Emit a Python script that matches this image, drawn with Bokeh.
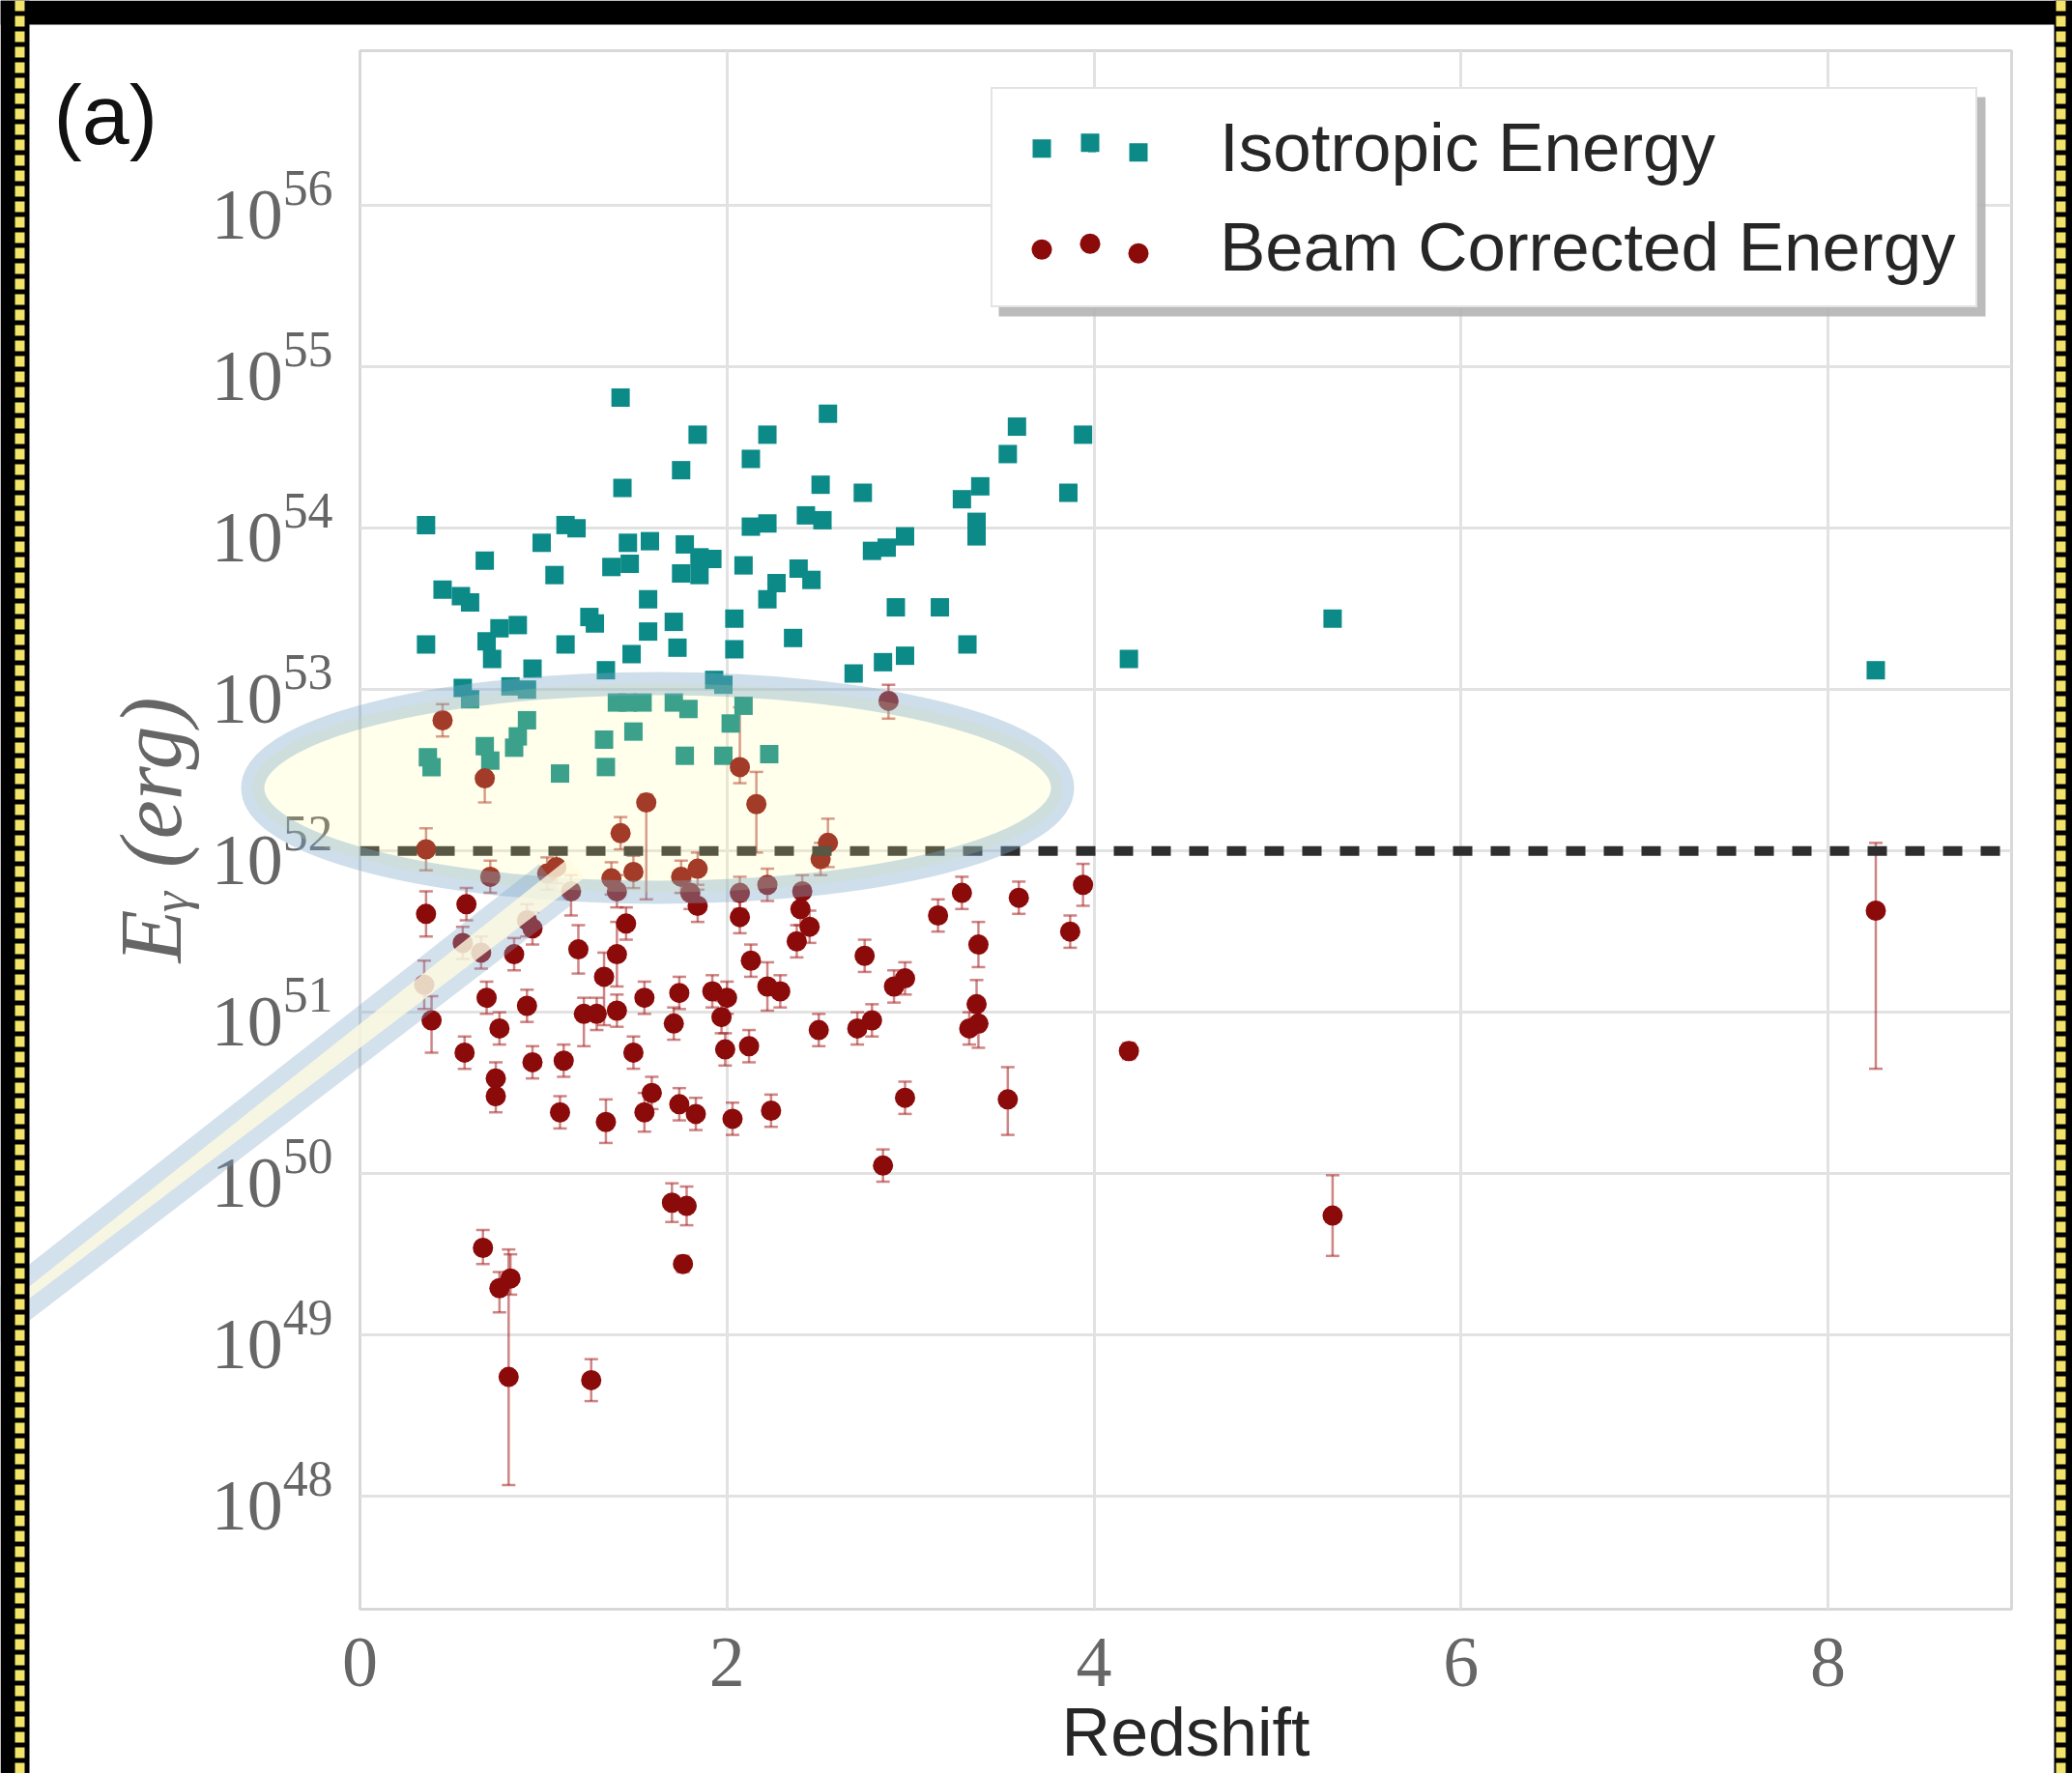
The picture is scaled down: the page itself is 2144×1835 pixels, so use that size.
import math
from bokeh.plotting import figure
from bokeh.models import (ColumnDataSource, Whisker, TeeHead, Span, Legend, LegendItem,
                          FixedTicker, Range1d, BoxAnnotation)
from bokeh.core.properties import value
from bokeh.embed import file_html
from bokeh.resources import INLINE

# ---------------- data ----------------
iso_z = [1.42, 1.84, 2.22, 2.55, 1.75, 2.13, 2.51, 1.43, 2.74, 3.58, 3.53, 3.94, 3.86, 3.38, 3.28,
         3.36, 3.36, 0.36, 0.99, 1.12, 1.18, 0.68, 1.06, 0.45, 0.55, 0.60, 0.36, 0.69, 0.76, 0.86,
         0.72, 0.94, 0.82, 0.56, 0.60, 0.91, 1.12, 1.25, 1.28, 1.34, 1.37, 1.46, 1.58, 1.47, 1.57,
         1.48, 1.57, 1.71, 1.73, 1.77, 1.85, 1.92, 1.75, 1.85, 2.04, 2.04, 1.93, 1.98, 2.13, 2.22,
         2.09, 2.22, 2.27, 2.39, 2.46, 2.43, 2.52, 2.36, 2.79, 2.87, 2.97, 2.92, 3.16, 2.97, 2.85,
         2.69, 3.31, 5.30, 4.19, 8.26, 0.37, 0.39, 0.68, 0.71, 0.84, 0.91, 0.86, 1.09, 1.33, 1.34,
         1.40, 1.46, 1.54, 1.49, 1.71, 1.79, 1.77, 1.98, 2.02, 2.09, 2.23]
iso_logE = [54.81, 54.58, 54.58, 54.71, 54.36, 54.43, 54.27, 54.25, 54.22, 54.63, 54.46, 54.58, 54.22,
            54.26, 54.18, 54.04, 53.95, 54.02, 53.91, 54.02, 54.00, 53.80, 53.71, 53.62, 53.58, 53.54,
            53.28, 53.30, 53.38, 53.40, 53.19, 53.13, 53.02, 53.01, 52.94, 53.00, 53.28, 53.45, 53.41,
            53.12, 53.76, 53.91, 53.92, 53.78, 53.56, 53.22, 53.36, 53.42, 53.26, 53.90, 53.82, 53.81,
            53.72, 53.71, 53.44, 53.25, 53.06, 53.03, 54.01, 54.03, 53.77, 53.56, 53.66, 53.75, 53.68,
            54.08, 54.05, 53.32, 53.86, 53.88, 53.95, 53.51, 53.51, 53.21, 53.17, 53.10, 53.28, 53.44,
            53.19, 53.12, 52.58, 52.52, 52.65, 52.56, 52.64, 52.81, 52.71, 52.48, 52.69, 52.52, 52.92,
            52.92, 52.92, 52.74, 52.92, 52.88, 52.59, 52.59, 52.79, 52.90, 52.60]

beam_z = [0.45, 0.68, 2.88, 2.07, 2.16, 1.56, 1.42, 0.36, 2.55, 2.51, 1.02, 1.07, 0.71, 1.15, 1.37,
          1.49, 1.40, 1.75, 1.84, 1.80, 2.07, 2.22, 2.41, 2.40, 2.45, 2.38, 0.36, 0.58, 0.56, 0.91,
          0.94, 1.84, 1.19, 1.40, 1.33, 1.29, 1.22, 1.40, 0.84, 0.69, 0.91, 0.76, 0.35, 0.39, 0.57,
          0.74, 0.74, 0.94, 1.11, 1.09, 1.34, 1.49, 1.55, 1.59, 1.55, 1.71, 1.74, 1.74, 1.83, 1.92,
          1.97, 1.99, 2.00, 2.03, 2.12, 2.13, 2.22, 2.29, 2.24, 2.50, 2.75, 2.71, 2.79, 2.91, 2.97,
          2.97, 2.85, 3.15, 3.28, 3.37, 3.36, 3.32, 3.37, 3.53, 3.59, 3.87, 3.94, 4.19, 5.30, 8.26,
          0.67, 0.76, 0.82, 0.81, 1.26, 1.70, 1.78, 1.76, 1.45, 2.07, 0.66]
beam_logE = [52.81, 52.45, 52.93, 52.52, 52.29, 52.30, 52.11, 52.01, 52.05, 51.95, 51.86, 51.90, 51.84,
             51.75, 51.83, 51.87, 51.75, 51.84, 51.89, 51.74, 51.74, 51.79, 51.75, 51.64, 51.53, 51.44,
             51.61, 51.67, 51.43, 51.57, 51.52, 51.66, 51.39, 51.36, 51.22, 50.99, 50.99, 51.01, 51.36,
             51.09, 51.04, 50.90, 51.17, 50.95, 50.75, 50.59, 50.48, 50.69, 50.70, 50.38, 50.32, 50.75,
             51.09, 50.50, 50.38, 50.93, 51.12, 50.43, 50.37, 51.13, 50.97, 50.77, 51.09, 50.34, 50.79,
             51.32, 51.16, 51.13, 50.39, 50.89, 51.35, 50.90, 50.95, 51.16, 51.21, 50.47, 50.05, 51.60,
             51.74, 51.42, 51.05, 50.90, 50.93, 50.46, 51.71, 51.50, 51.79, 50.76, 49.74, 51.63, 49.54,
             49.29, 49.35, 48.74, 48.72, 49.82, 49.80, 49.44, 51.55, 51.59, 51.37]
beam_err_up = [0.10, 0.15, 0.10, 0.37, 0.20, 0.05, 0.10, 0.13, 0.15, 0.10, 0.10, 0.10, 0.10, 0.10, 0.10,
               0.10, 0.10, 0.10, 0.10, 0.10, 0.10, 0.10, 0.10, 0.10, 0.10, 0.10, 0.14, 0.10, 0.10, 0.10,
               0.10, 0.10, 0.15, 0.20, 0.15, 0.10, 0.10, 0.10, 0.10, 0.10, 0.10, 0.10, 0.15, 0.15, 0.10,
               0.10, 0.10, 0.10, 0.10, 0.10, 0.14, 0.10, 0.10, 0.10, 0.12, 0.10, 0.10, 0.10, 0.10, 0.10,
               0.10, 0.10, 0.10, 0.10, 0.10, 0.10, 0.15, 0.10, 0.10, 0.10, 0.10, 0.10, 0.10, 0.10, 0.10,
               0.10, 0.10, 0.10, 0.10, 0.14, 0.15, 0.10, 0.15, 0.20, 0.10, 0.10, 0.13, 0.05, 0.25, 0.42,
               0.11, 0.10, 0.15, 0.79, 0.13, 0.12, 0.12, 0.05, 0.10, 0.10, 0.10]
beam_err_dn = [0.10, 0.15, 0.11, 0.10, 0.30, 0.60, 0.10, 0.13, 0.15, 0.10, 0.10, 0.10, 0.10, 0.15, 0.10,
               0.10, 0.10, 0.10, 0.10, 0.10, 0.10, 0.10, 0.10, 0.10, 0.10, 0.10, 0.14, 0.10, 0.10, 0.10,
               0.10, 0.10, 0.15, 0.20, 0.30, 0.10, 0.20, 0.10, 0.10, 0.10, 0.10, 0.10, 0.15, 0.20, 0.10,
               0.10, 0.10, 0.10, 0.10, 0.10, 0.13, 0.10, 0.10, 0.10, 0.12, 0.10, 0.10, 0.10, 0.10, 0.10,
               0.10, 0.10, 0.10, 0.10, 0.10, 0.10, 0.15, 0.10, 0.10, 0.10, 0.10, 0.10, 0.10, 0.10, 0.10,
               0.10, 0.10, 0.10, 0.10, 0.14, 0.15, 0.10, 0.15, 0.22, 0.10, 0.10, 0.13, 0.05, 0.25, 0.98,
               0.10, 0.15, 0.10, 0.67, 0.13, 0.12, 0.12, 0.05, 0.10, 0.10, 0.10]

threshold_logE = 52.0
x_ticks = [0, 2, 4, 6, 8]
y_tick_exponents = [48, 49, 50, 51, 52, 53, 54, 55, 56]
legend_labels = ["Isotropic Energy", "Beam Corrected Energy"]
panel_label = "(a)"
x_label = "Redshift"
y_label = "Eᵧ (erg)"

# ---------------- styles / layout (page px) ----------------
TEAL = "#0b8a88"
DARKRED = "#8b0a0a"
W, H = 2144, 1835
FRAME_L, FRAME_R, FRAME_T, FRAME_B = 372, 2081, 52, 1665

p = figure(width=W, height=H, x_range=Range1d(0, 9), y_range=Range1d(10 ** 47.3, 10 ** 56.96),
           y_axis_type="log", output_backend="svg", toolbar_location=None,
           min_border_left=FRAME_L, min_border_right=W - FRAME_R,
           min_border_top=FRAME_T, min_border_bottom=H - FRAME_B)
p.background_fill_color = "white"
p.border_fill_color = "white"
p.outline_line_color = "#d8d8d8"
p.outline_line_width = 3

p.xaxis.ticker = FixedTicker(ticks=x_ticks)
p.yaxis.ticker = FixedTicker(ticks=[10.0 ** e for e in y_tick_exponents])
p.xgrid.ticker = FixedTicker(ticks=x_ticks)
p.ygrid.ticker = FixedTicker(ticks=[10.0 ** e for e in y_tick_exponents])
for g in (p.xgrid, p.ygrid):
    g.grid_line_color = "#e2e2e2"
    g.grid_line_width = 3
for ax in (p.xaxis, p.yaxis):
    ax.axis_line_color = None
    ax.major_tick_line_color = None
    ax.minor_tick_line_color = None
    ax.major_label_text_font = "Liberation Serif"
    ax.major_label_text_font_size = "74px"
    ax.major_label_text_color = "#666666"

p.xaxis.axis_label = x_label
p.xaxis.axis_label_text_font = "Liberation Sans"
p.xaxis.axis_label_text_font_style = "normal"
p.xaxis.axis_label_text_font_size = "70px"
p.xaxis.axis_label_text_color = "#262626"
p.xaxis.major_label_standoff = 24
p.xaxis.axis_label_standoff = 6

p.yaxis.axis_label = y_label
p.yaxis.axis_label_text_font = "Liberation Serif"
p.yaxis.axis_label_text_font_style = "italic"
p.yaxis.axis_label_text_font_size = "90px"
p.yaxis.axis_label_text_color = "#666666"
p.yaxis.major_label_standoff = 22
p.yaxis.axis_label_standoff = 10

# threshold line
p.add_layout(Span(location=10 ** threshold_logE, dimension="width", line_color="#2e2e2e",
                  line_width=10, line_dash="20 19"))

# data
iso_src = ColumnDataSource(dict(x=iso_z, y=[10 ** v for v in iso_logE]))
beam_src = ColumnDataSource(dict(
    x=beam_z, y=[10 ** v for v in beam_logE],
    upper=[10 ** (v + u) for v, u in zip(beam_logE, beam_err_up)],
    lower=[10 ** (v - d) for v, d in zip(beam_logE, beam_err_dn)]))

iso_r = p.scatter("x", "y", source=iso_src, marker="square", size=19,
                  fill_color=TEAL, line_color=None)
beam_r = p.scatter("x", "y", source=beam_src, marker="circle", size=21,
                   fill_color=DARKRED, line_color=None)
p.add_layout(Whisker(source=beam_src, base="x", upper="upper", lower="lower", dimension="height",
                     line_color="#a82020", line_alpha=0.55, line_width=2.5,
                     upper_head=TeeHead(size=14, line_color="#a82020", line_alpha=0.55, line_width=2.5),
                     lower_head=TeeHead(size=14, line_color="#a82020", line_alpha=0.55, line_width=2.5)))

# ---------------- legend ----------------
LEG_LEFT, LEG_BOTTOM = 1025, 318
PAD, SPACING, GW, ITEM_H = 20, 22, 165, 82.5
legend = Legend(items=[LegendItem(label=legend_labels[0], renderers=[iso_r]),
                       LegendItem(label=legend_labels[1], renderers=[beam_r])],
                location=(LEG_LEFT - FRAME_L, FRAME_B - LEG_BOTTOM),
                padding=PAD, spacing=SPACING, glyph_width=GW, glyph_height=20,
                label_height=80, label_standoff=50, margin=0,
                label_text_font="Liberation Sans", label_text_font_size="71px",
                label_text_color="#262626", border_line_color="#c8c8c8", border_line_width=2,
                background_fill_color="white", background_fill_alpha=1.0)
box_h = 2 * PAD + 2 * ITEM_H + SPACING
leg_top = LEG_BOTTOM - box_h
p.add_layout(BoxAnnotation(left=LEG_LEFT + 8, right=2054, top=leg_top + 9, bottom=LEG_BOTTOM + 9,
                           left_units="canvas", right_units="canvas", top_units="canvas",
                           bottom_units="canvas", fill_color="#b4b4b4", fill_alpha=0.9,
                           line_color=None))
p.add_layout(legend)

# ---------------- overlay (highlight ellipse + callout, screenshot frame) ----------------
# A second, transparent figure laid over the chart (page-pixel coordinates, y downwards),
# so that the annotation can extend beyond the plot frame as in the screenshot.
ov = figure(width=W, height=H, x_range=Range1d(0, W), y_range=Range1d(H, 0),
            output_backend="svg", toolbar_location=None, min_border=0,
            x_axis_location=None, y_axis_location=None, margin=(-H, 0, 0, 0))
ov.grid.visible = False
ov.outline_line_color = None
ov.background_fill_alpha = 0
ov.border_fill_alpha = 0

# legend sample markers (three per entry, as matplotlib draws them)
gx = LEG_LEFT + PAD + GW / 2
row_c = [leg_top + PAD + ITEM_H / 2, leg_top + PAD + ITEM_H * 1.5 + SPACING]
dxs = [-50, 0, 50]
dys = [1, -5, 5]
ov.scatter([gx + dx for dx in dxs], [row_c[0] + dy for dy in dys], marker="square", size=19,
           fill_color=TEAL, line_color=None)
ov.scatter([gx + dx for dx in dxs], [row_c[1] + dy for dy in dys], marker="circle", size=21,
           fill_color=DARKRED, line_color=None)

# highlight ellipse
ov.ellipse(x=[680], y=[815], width=[838], height=[216], fill_color="#ffff99", fill_alpha=0.2,
           line_color="#7fa7c9", line_alpha=0.38, line_width=24)
# callout pointer
p0 = (574, 915)
d = (-0.790, 0.613)
nrm = (0.613, 0.790)
Lb = 860
p2 = (p0[0] + Lb * d[0], p0[1] + Lb * d[1])
band_x = [p0[0] + 27 * nrm[0], p2[0] + 22 * nrm[0], p2[0] - 22 * nrm[0], p0[0] - 27 * nrm[0]]
band_y = [p0[1] + 27 * nrm[1], p2[1] + 22 * nrm[1], p2[1] - 22 * nrm[1], p0[1] - 27 * nrm[1]]
ov.patch(band_x, band_y, fill_color="#7fa7c9", fill_alpha=0.34, line_color=None)
w0 = (p0[0] - 28 * d[0], p0[1] - 28 * d[1])
wedge_x = [w0[0] + 13 * nrm[0], p2[0] + 3 * nrm[0], p2[0] - 3 * nrm[0], w0[0] - 13 * nrm[0]]
wedge_y = [w0[1] + 13 * nrm[1], p2[1] + 3 * nrm[1], p2[1] - 3 * nrm[1], w0[1] - 13 * nrm[1]]
ov.patch(wedge_x, wedge_y, fill_color="#fffbe0", fill_alpha=0.8, line_color=None)

# panel label
ov.text(x=[55], y=[118], text=[panel_label], text_font=value("Liberation Sans"),
        text_font_size="88px", text_baseline="middle", text_align="left", text_color="#111111")

# screenshot frame: black edges with yellow dashed strips
ov.quad(left=[0, 0, 2125], right=[W, 30, W], top=[0, 0, 0], bottom=[25, H, H],
        fill_color="black", line_color=None)
ov.segment(x0=[20, 2132], y0=[0, 0], x1=[20, 2132], y1=[H, H], line_color="#f2e36b",
           line_width=10, line_dash="11 5")

open("out.html", "w").write(file_html([p, ov], INLINE))
